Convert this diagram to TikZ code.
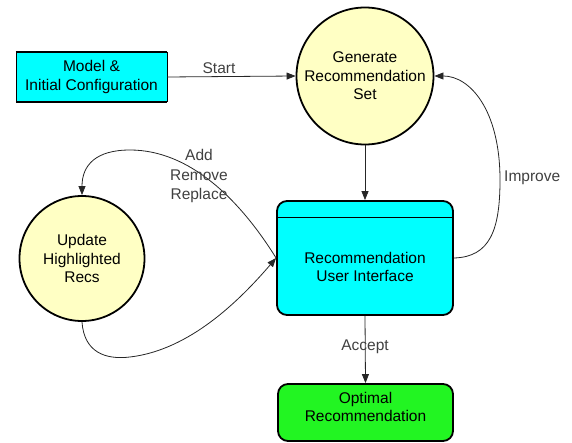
\documentclass[tikz,border=0pt]{standalone}
\usepackage{fontspec}
\setmainfont{Liberation Sans}
\usetikzlibrary{arrows.meta}
\definecolor{boxcyan}{HTML}{00FFFF}
\definecolor{circyellow}{HTML}{FFFFC4}
\definecolor{boxgreen}{HTML}{22F522}
\definecolor{lblgray}{HTML}{404040}
\begin{document}
\begin{tikzpicture}[x=1pt,y=-1pt,
  nodetext/.style={font=\fontsize{15.5}{18.5}\selectfont, align=center, text=black},
  circnode/.style={circle, draw=black, line width=1.8pt, fill=circyellow, inner sep=0pt, nodetext},
  roundbox/.style={rectangle, rounded corners=10pt, draw=black, line width=1.8pt, inner sep=0pt, nodetext},
  flow/.style={draw=black!85, line width=0.8pt, -{Triangle[length=9pt,width=7pt]}},
  lbl/.style={font=\fontsize{15.5}{19.5}\selectfont, align=center, text=lblgray, inner sep=0pt}
]
\useasboundingbox (0,0) rectangle (572,443);

% Model box (thick top and bottom only)
\node[rectangle, fill=boxcyan, minimum width=151pt, minimum height=50pt, inner sep=0pt, nodetext] (model) at (91.5,77) {Model \&\\Initial Configuration};
\draw[line width=0.6pt] (model.north west) -- (model.south west) (model.north east) -- (model.south east);
\draw[line width=2pt] (model.north west) -- (model.north east);
\draw[line width=2pt] (model.south west) -- (model.south east);

% Circles
\node[circnode, minimum size=137pt] (gen) at (365,76) {Generate\\Recommendation\\Set};
\node[circnode, minimum size=125pt] (upd) at (82,258.5) {Update\\Highlighted\\Recs};

% UI box
\node[roundbox, fill=boxcyan, minimum width=176pt, minimum height=114pt] (ui) at (365,258) {};
\draw[line width=0.8pt] ([yshift=-17pt]ui.north west) -- ([yshift=-17pt]ui.north east);
\node[nodetext] (uitext) at (365,267) {Recommendation\\User Interface};

% Optimal box
\node[roundbox, fill=boxgreen, minimum width=175pt, minimum height=57pt] (opt) at (365.5,412.5) {};
\node[nodetext] (opttext) at (365.5,407) {Optimal\\Recommendation};

% Connectors
\draw[flow] (model.east) -- (gen.west);
\node[lbl] (start) at (219,68) {Start};

\draw[flow] (gen.south) -- (ui.north);

\draw[flow] (ui.south) -- (opt.north);
\node[lbl] (accept) at (365,347) {Accept};

\draw[flow] (ui.east) .. controls (490,257) and (500,230) .. (500,180)
  .. controls (500,110) and (470,76) .. (gen.east);
\node[lbl, anchor=west] (improve) at (504,178) {Improve};

\draw[flow] (ui.west) .. controls (240,200) and (190,150) .. (130,150)
  .. controls (96,150) and (82,165) .. (upd.north);
\node[lbl] (arr) at (199,176) {Add\\Remove\\Replace};

\draw[flow] (upd.south) .. controls (84,352) and (105,360) .. (130,357)
  .. controls (190,350) and (240,300) .. (ui.west);
\end{tikzpicture}
\end{document}
